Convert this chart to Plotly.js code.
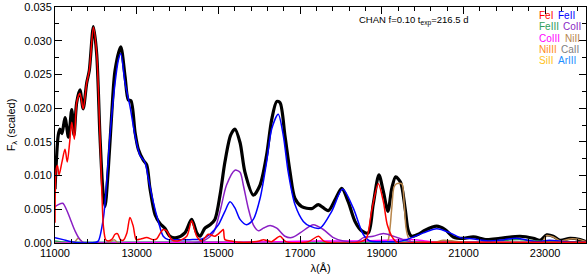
<!DOCTYPE html>
<html><head><meta charset="utf-8">
<script src="https://cdn.plot.ly/plotly-3.0.1.min.js"></script>
<style>html,body{margin:0;padding:0;background:#fff}#chart{width:588px;height:279px}</style>
</head><body><div id="chart"></div>
<script>
// ---- data (wavelength in Angstrom, scaled flux) ----
const totalWave = [11000,11080,11120,11170,11245,11330,11410,11465,11530,11610,11690,11775,11840,11940,12020,12100,12170,12225,12305,12390,12470,12610,12715,12795,12860,12960,13040,13160,13245,13325,13450,13570,13690,13815,13980,14180,14345,14470,14550,14670,14795,14915,15040,15160,15300,15405,15530,15650,15855,16020,16180,16305,16430,16510,16630,16755,16875,17040,17285,17445,17690,17855,18020,18180,18345,18510,18670,18790,18930,19040,19150,19245,19340,19460,19570,19650,19730,19895,20060,20345,20550,20750,21000,21240,21570,21895,22385,22710,22875,23040,23200,23365,23610,23855,24000];
const totalFlux = [0.0080,0.0160,0.0169,0.0162,0.0186,0.0157,0.0198,0.0160,0.0208,0.0227,0.0199,0.0237,0.0256,0.0321,0.0281,0.0160,0.0080,0.0054,0.0110,0.0193,0.0256,0.0291,0.0247,0.0212,0.0211,0.0164,0.0139,0.0123,0.0116,0.0081,0.0042,0.0029,0.0022,0.0010,0.0008,0.0015,0.0035,0.0015,0.0010,0.0022,0.0027,0.0035,0.0071,0.0120,0.0160,0.0169,0.0149,0.0105,0.0071,0.0086,0.0130,0.0183,0.0210,0.0208,0.0159,0.0105,0.0066,0.0054,0.0051,0.0057,0.0048,0.0064,0.0081,0.0061,0.0032,0.0018,0.0015,0.0057,0.0101,0.0076,0.0047,0.0081,0.0098,0.0090,0.0052,0.0018,0.0010,0.0013,0.0019,0.0025,0.0020,0.0009,0.0007,0.0009,0.0005,0.0007,0.0010,0.0007,0.0004,0.0012,0.0010,0.0004,0.0007,0.0005,0.0002];

const feIWave = [11000,11030,11060,11100,11170,11245,11300,11360,11410,11475,11530,11610,11690,11775,11840,11940,12020,12100,12150,12185,12240,12300,12400,12470,12530,12600,12670,12760,12835,12915,12990,13100,13245,13400,13490,13580,13650,13735,13855,14000,14225,14345,14470,14590,14755,14915,15080,15120,15160,15300,15530,16000,16100,16300,16510,16650,17200,17450,17600,18500,18630,18750,18915,19040,19135,19245,19370,20000,24000];
const feIFlux = [0.0030,0.0110,0.0115,0.0101,0.0120,0.0139,0.0120,0.0150,0.0179,0.0154,0.0208,0.0222,0.0199,0.0237,0.0256,0.0320,0.0281,0.0160,0.0070,0.0025,0.0005,0.0003,0.0006,0.0013,0.0014,0.0005,0.0004,0.0015,0.0038,0.0025,0.0005,0.0006,0.0008,0.0005,0.0006,0.0015,0.0020,0.0018,0.0005,0.0003,0.0010,0.0033,0.0010,0.0003,0.0013,0.0010,0.0018,0.0020,0.0005,0.0003,0.0001,0.0003,0.0005,0.0002,0.0010,0.0002,0.0002,0.0010,0.0002,0.0002,0.0008,0.0047,0.0088,0.0061,0.0027,0.0010,0.0001,0.0001,0.0001];

const feIIWave = [11000,11200,11400,11700,12000,12060,12185,12265,12345,12470,12550,12610,12715,12835,12960,13080,13200,13285,13405,13530,13650,13775,14000,14300,14600,14795,15000,15160,15285,15405,15530,15690,15855,16020,16180,16305,16465,16590,16710,16875,17080,17240,17490,17775,18040,18300,18545,18710,19000,19400,19610,20020,20345,20670,20915,21250,21600,22000,22300,22800,23100,23500,24000];
const feIIFlux = [0.0008,0.0005,0.0002,0.0000,0.0001,0.0003,0.0037,0.0091,0.0159,0.0237,0.0271,0.0281,0.0237,0.0203,0.0159,0.0130,0.0120,0.0096,0.0061,0.0032,0.0010,0.0005,0.0005,0.0005,0.0006,0.0013,0.0027,0.0047,0.0061,0.0052,0.0035,0.0027,0.0035,0.0066,0.0120,0.0169,0.0191,0.0159,0.0105,0.0057,0.0032,0.0025,0.0022,0.0047,0.0080,0.0052,0.0013,0.0003,0.0002,0.0002,0.0005,0.0015,0.0021,0.0015,0.0008,0.0006,0.0003,0.0005,0.0007,0.0002,0.0004,0.0002,0.0001];

const coIIWave = [11000,11080,11190,11285,11365,11490,11610,11690,12000,14400,14630,14875,15040,15200,15405,15530,15610,15730,15855,15980,16100,16265,16430,16630,16795,17000,17240,17325,17570,17815,18060,18400,18550,18790,19040,19285,19530,19775,24000];
const coIIFlux = [0.0054,0.0057,0.0059,0.0049,0.0037,0.0018,0.0005,0.0001,0.0000,0.0000,0.0003,0.0015,0.0047,0.0086,0.0108,0.0105,0.0086,0.0052,0.0027,0.0018,0.0022,0.0026,0.0022,0.0010,0.0008,0.0015,0.0025,0.0027,0.0020,0.0008,0.0003,0.0002,0.0008,0.0010,0.0014,0.0010,0.0005,0.0001,0.0000];

const niIIWave = [11000,11450,11570,11700,12300,12450,12550,19100,19160,19245,19300,19365,19490,19545,19595,19650,19750,20300,20500,20750,21000,22900,23040,23200,23365,23610,23855,24000];
const niIIFlux = [0.0000,0.0000,0.0007,0.0000,0.0000,0.0005,0.0000,0.0000,0.0005,0.0052,0.0083,0.0088,0.0088,0.0061,0.0022,0.0008,0.0000,0.0001,0.0004,0.0003,0.0001,0.0001,0.0011,0.0009,0.0003,0.0006,0.0005,0.0002];

const feIIIWave = [11000,11300,14000,18000,21500,22000,22400,22800,23200,24000];
const feIIIFlux = [0.0003,0.0001,0.0001,0.0001,0.0002,0.0004,0.0005,0.0003,0.0002,0.0002];

const coIIIWave = [11000,15000,16500,17500,18500,19500,19800,20200,21000,24000];
const coIIIFlux = [0.0000,0.0001,0.0002,0.0003,0.0003,0.0005,0.0005,0.0002,0.0001,0.0000];

const niIIIWave = [11000,24000];
const niIIIFlux = [0.0000,0.0000];
const caIIWave = [11000,24000];
const caIIFlux = [0.0000,0.0000];
const siIIWave = [11000,24000];
const siIIFlux = [0.0001,0.0001];
const arIIIWave = [11000,24000];
const arIIIFlux = [0.0001,0.0001];

const legendNames = ["FeI","FeII","FeIII","CoII","CoIII","NiII","NiIII","CaII","SiII","ArIII"];
const legendColors = ["#ff0000","#0000ff","#2e9e5a","#8a1fc4","#ff00ff","#b8864b","#ff8c1a","#808080","#ffc21a","#1e8fff"];

// ---- traces ----
function tr(x, y, color, w) {
  return {x: x, y: y, type: 'scatter', mode: 'lines',
          line: {color: color, width: w, shape: 'spline', smoothing: 0.8},
          hoverinfo: 'skip', showlegend: false};
}
const data = [
  tr(totalWave, totalFlux, '#000000', 3.2),
  tr(niIIIWave, niIIIFlux, legendColors[6], 1.5),
  tr(caIIWave, caIIFlux, legendColors[7], 1.5),
  tr(siIIWave, siIIFlux, legendColors[8], 1.5),
  tr(arIIIWave, arIIIFlux, legendColors[9], 1.5),
  tr(feIIIWave, feIIIFlux, legendColors[2], 1.5),
  tr(coIIIWave, coIIIFlux, legendColors[4], 1.5),
  tr(niIIWave, niIIFlux, legendColors[5], 1.5),
  tr(coIIWave, coIIFlux, legendColors[3], 1.5),
  tr(feIIWave, feIIFlux, legendColors[1], 1.5),
  tr(feIWave, feIFlux, legendColors[0], 1.5)
];

const sans = 'Liberation Sans, Arial, sans-serif';

// legend as coloured text (two columns)
const legX = [536.5, 556, 536.5, 561, 536.5, 563, 536.5, 559, 536.5, 556];
const legY = [15, 15, 26.7, 26.7, 38.3, 38.3, 50, 50, 61, 61];
const L = 55, T = 7, PW = 531, PH = 236;
const annotations = legendNames.map((n, i) => ({
  xref: 'paper', yref: 'paper',
  x: (legX[i] - L) / PW, y: (T + PH - legY[i]) / PH,
  xanchor: 'left', yanchor: 'middle', showarrow: false,
  text: n, font: {family: sans, size: 10, color: legendColors[i]}
}));
annotations.push({
  xref: 'paper', yref: 'paper', x: (356.5 - L) / PW, y: (T + PH - 21) / PH,
  xanchor: 'left', yanchor: 'middle', showarrow: false,
  text: 'CHAN f=0.10 t<sub>exp</sub>=216.5 d',
  font: {family: sans, size: 9.5, color: '#000'}
});

const axisCommon = {
  showgrid: false, zeroline: false, showline: true, linecolor: '#000', linewidth: 1,
  mirror: 'allticks', ticks: 'inside', ticklen: 7, tickwidth: 1, tickcolor: '#000',
  ticklabeloverflow: 'allow',
  tickfont: {family: sans, size: 11, color: '#000'}
};

const layout = {
  width: 588, height: 279,
  margin: {l: L, r: 2, t: T, b: 36, pad: 0},
  paper_bgcolor: '#fff', plot_bgcolor: '#fff',
  showlegend: false,
  xaxis: Object.assign({}, axisCommon, {
    range: [11000, 24000], tickmode: 'linear', tick0: 11000, dtick: 2000, tickformat: 'd',
    minor: {dtick: 400, tick0: 11000, ticklen: 4, tickcolor: '#000', ticks: 'inside'},
    title: {text: 'λ(Å)', font: {family: sans, size: 11, color: '#000'}, standoff: 6}
  }),
  yaxis: Object.assign({}, axisCommon, {
    range: [0, 0.0350001], tickmode: 'linear', tick0: 0, dtick: 0.005, tickformat: '.3f',
    minor: {dtick: 0.0025, tick0: 0, ticklen: 4, tickcolor: '#000', ticks: 'inside'},
    title: {text: 'F<sub>λ</sub> (scaled)', font: {family: sans, size: 11, color: '#000'}, standoff: 6}
  }),
  annotations: annotations
};

Plotly.newPlot('chart', data, layout, {staticPlot: true, displayModeBar: false});
</script>
</body></html>
